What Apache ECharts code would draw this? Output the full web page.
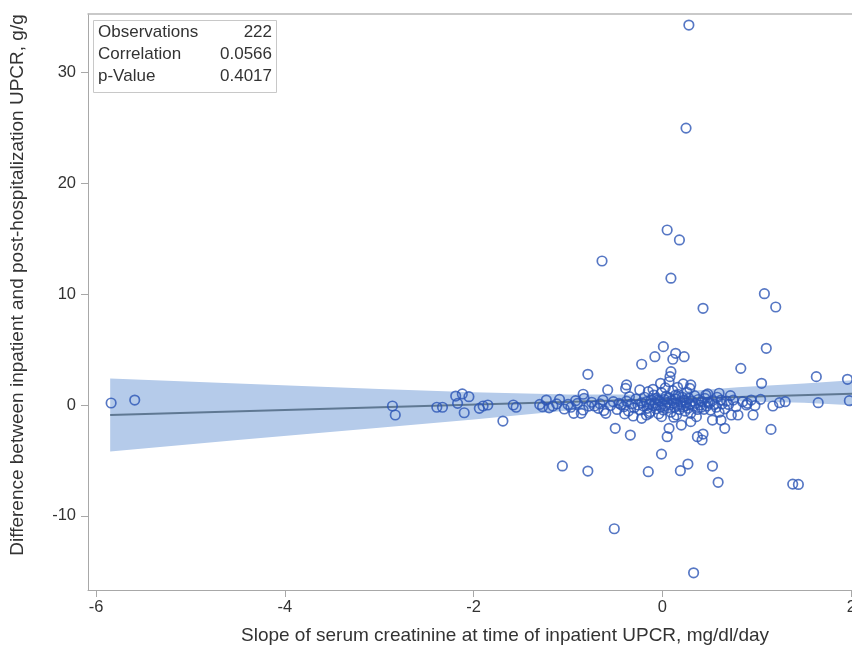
<!DOCTYPE html>
<html>
<head>
<meta charset="utf-8">
<script src="https://cdn.jsdelivr.net/npm/echarts@6/dist/echarts.min.js"></script>
<style>html,body{margin:0;padding:0;background:#fff;overflow:hidden}#c{width:852px;height:646px}</style>
</head>
<body>
<div id="c"></div>
<script>
// ---- data ----
const xTicks = [-6, -4, -2, 0, 2];
const yTicks = [-10, 0, 10, 20, 30];

const pointsX = [
 -5.84,-5.59,-2.86,-2.83,-2.39,-2.33,-2.19,-2.12,-2.05,-2.17,
 -2.10,-1.94,-1.90,-1.85,-1.69,-1.58,-1.55,-1.27,-1.23,-1.16,
 -1.09,-1.04,-0.94,-0.92,-0.86,-0.84,-0.84,-0.79,-1.06,-0.79,
 -0.83,-0.72,-0.63,-0.58,-0.60,-0.50,-0.38,-0.39,-0.24,-0.22,
 -0.08,-0.31,-0.46,-0.10,-0.14,0.01,0.14,0.11,0.23,0.09,
 0.08,0.07,-0.02,0.22,0.30,0.29,0.83,0.60,0.46,0.62,
 0.50,0.44,0.90,0.94,0.73,0.80,0.96,0.53,0.62,0.30,
 0.20,0.07,0.66,-0.17,-0.01,-0.34,0.05,0.37,0.43,0.42,
 -0.01,-0.15,0.19,0.27,0.53,1.15,1.10,1.05,1.63,1.96,
 1.65,1.98,1.17,1.24,1.30,1.04,0.89,0.28,0.25,0.05,
 0.18,-0.64,0.09,1.08,1.20,0.43,0.59,1.38,1.44,-0.51,
 0.33,
 -1.30,-1.20,-1.12,-1.00,-0.97,-0.90,-0.78,-0.75,-0.68,-0.66,
 -0.55,-0.52,-0.48,-0.44,-0.41,-0.38,-0.36,-0.33,-0.30,-0.28,
 -0.26,-0.24,-0.22,-0.20,-0.19,-0.17,-0.16,-0.14,-0.13,-0.12,
 -0.10,-0.09,-0.08,-0.07,-0.06,-0.05,-0.04,-0.03,-0.02,-0.01,
 0.00,0.01,0.02,0.03,0.04,0.05,0.06,0.07,0.08,0.09,
 0.10,0.11,0.12,0.13,0.14,0.15,0.16,0.17,0.18,0.19,
 0.20,0.21,0.22,0.23,0.24,0.25,0.26,0.27,0.28,0.29,
 0.30,0.31,0.33,0.34,0.35,0.37,0.38,0.40,0.41,0.42,
 0.45,0.47,0.48,0.51,0.53,0.55,0.57,0.58,0.63,0.66,
 0.68,0.70,0.75,0.78,0.85,0.98,-0.35,-0.15,0.03,0.16,
 -0.40,0.12,0.36,-0.22,0.48,-0.62,0.60,0.72,-0.05,0.25,
 0.14
];
const pointsY = [
 0.18,0.45,-0.09,-0.90,-0.20,-0.20,0.81,1.00,0.75,0.15,
 -0.70,-0.30,-0.09,0.00,-1.45,0.00,-0.20,-0.15,0.45,-0.09,
 0.51,-0.36,-0.75,0.39,-0.75,-0.45,0.97,2.77,-5.50,-5.96,
 0.60,-0.09,0.45,1.36,-0.75,-2.10,1.81,1.50,1.36,3.68,
 4.36,-0.99,0.15,1.42,-0.75,5.27,4.67,4.13,4.36,3.01,
 2.56,2.10,1.96,1.90,1.81,1.50,3.31,1.06,0.90,0.45,
 0.15,-0.39,0.15,0.45,-0.90,-0.90,-0.90,-1.36,-1.36,-1.50,
 -1.81,-2.10,-2.10,-0.90,-1.05,-2.71,-2.86,-2.86,-2.62,-3.16,
 -4.43,-6.02,-5.93,-5.33,-5.51,-2.20,5.12,1.96,2.56,2.32,
 0.21,0.39,-0.09,0.21,0.30,0.51,0.00,34.3,25.0,15.8,
 14.9,13.0,11.45,10.05,8.85,8.73,-6.98,-7.14,-7.17,-11.17,
 -15.15,
 0.05,-0.25,0.10,0.05,-0.20,0.15,-0.10,0.25,-0.30,0.10,
 -0.05,0.30,-0.40,0.05,-0.15,0.35,-0.55,0.10,-0.25,0.55,
 0.00,-0.45,0.20,-0.10,0.70,0.30,-0.30,0.05,-0.60,0.45,
 -0.05,0.90,0.20,-0.35,0.60,0.00,-0.80,0.35,-0.15,1.10,
 0.10,-0.45,0.50,-0.05,0.80,0.25,-0.25,0.65,0.00,-0.65,
 0.40,1.30,0.15,-0.20,0.55,-0.90,0.05,0.95,-0.40,0.30,
 0.00,0.70,-0.15,0.45,-0.55,0.20,1.15,-0.30,0.60,0.05,
 -0.75,0.35,-0.10,0.85,0.15,-0.40,0.50,0.00,-0.20,0.30,
 0.60,-0.10,0.25,-0.45,0.40,0.05,-0.20,0.70,0.10,-0.35,
 0.35,0.05,0.45,-0.15,0.30,-0.05,0.75,1.20,1.55,1.60,
 -0.80,-1.10,-1.05,-1.20,1.00,-0.50,-0.65,0.85,0.45,-0.05,
 0.90
];

const fitX = [-5.85, 2.1];
const fitY = [-0.9, 1.05];

const bandX = [-5.85, -4.5, -3.0, -2.0, -1.0, -0.2, 0.8, 1.5, 2.1];
const bandUpper = [2.4, 1.95, 1.45, 1.15, 0.95, 0.95, 1.6, 1.95, 2.3];
const bandLower = [-4.2, -3.15, -2.05, -1.3, -0.5, -0.05, 0.35, 0.2, -0.05];

const statLabels = ['Observations', 'Correlation', 'p-Value'];
const statValues = ['222', '0.0566', '0.4017'];

const xTitle = 'Slope of serum creatinine at time of inpatient UPCR, mg/dl/day';
const yTitle = 'Difference between inpatient and post-hospitalization UPCR, g/g';

// ---- chart ----
const chart = echarts.init(document.getElementById('c'), null, {renderer: 'canvas', width: 852, height: 646});
const font = '"Liberation Sans", Arial, sans-serif';
const txt = '#333';
const frame = '#a8a8a8';

const scatterData = pointsX.map((x, i) => [x, pointsY[i]]);
const fitData = fitX.map((x, i) => [x, fitY[i]]);

const graphics = [{
  type: 'rect', left: 93, top: 20, z: 100,
  shape: {width: 183, height: 72},
  style: {fill: '#fff', stroke: '#c8c8c8', lineWidth: 1}
}, {
  type: 'text', x: 505, y: 636, z: 100,
  style: {text: xTitle, fill: txt, font: '19px ' + font, textAlign: 'center', textVerticalAlign: 'middle'}
}, {
  type: 'text', x: 18, y: 285, rotation: Math.PI / 2, z: 100,
  style: {text: yTitle, fill: txt, font: '19px ' + font, textAlign: 'center', textVerticalAlign: 'middle'}
}];
statLabels.forEach((s, i) => {
  graphics.push({type: 'text', x: 98, y: 32 + i * 22, z: 101,
    style: {text: s, fill: txt, font: '17px ' + font, textVerticalAlign: 'middle', textAlign: 'left'}});
  graphics.push({type: 'text', x: 272, y: 32 + i * 22, z: 101,
    style: {text: statValues[i], fill: txt, font: '17px ' + font, textVerticalAlign: 'middle', textAlign: 'right'}});
});

chart.setOption({
  animation: false,
  backgroundColor: '#fff',
  grid: {left: 88, top: 14, bottom: 56, right: 0, show: false, containLabel: false, outerBoundsMode: 'none'},
  xAxis: [{
    type: 'value', min: -6.085, max: 2.008, position: 'bottom',
    axisLine: {show: true, onZero: false, lineStyle: {color: frame}},
    axisTick: {show: true, customValues: xTicks, length: 7, lineStyle: {color: frame}},
    axisLabel: {customValues: xTicks, fontFamily: font, fontSize: 16.5, color: txt, margin: 9},
    splitLine: {show: false}
  }, {
    type: 'value', min: -6.085, max: 2.008, position: 'top',
    axisLine: {show: true, onZero: false, lineStyle: {color: '#b8b8b8', width: 1.5}},
    axisTick: {show: false}, axisLabel: {show: false}, splitLine: {show: false}
  }],
  yAxis: {
    type: 'value', min: -16.7, max: 35.3,
    axisLine: {show: true, onZero: false, lineStyle: {color: frame}},
    axisTick: {show: true, customValues: yTicks, length: 7, lineStyle: {color: frame}},
    axisLabel: {customValues: yTicks, fontFamily: font, fontSize: 16.5, color: txt, margin: 12},
    splitLine: {show: false}
  },
  graphic: graphics,
  series: [
    {
      type: 'custom', z: 1, silent: true, clip: true,
      data: [[0, 0]],
      renderItem: function (params, api) {
        const pts = [];
        bandX.forEach((x, i) => pts.push(api.coord([x, bandUpper[i]])));
        for (let i = bandX.length - 1; i >= 0; i--) pts.push(api.coord([bandX[i], bandLower[i]]));
        return {type: 'polygon', shape: {points: pts}, style: {fill: '#b5cbea', stroke: 'none'}};
      }
    },
    {
      type: 'line', z: 2, data: fitData, showSymbol: false, symbol: 'none', clip: true,
      lineStyle: {color: '#5f7893', width: 2}, silent: true
    },
    {
      type: 'scatter', z: 3, data: scatterData, symbol: 'circle', symbolSize: 9.5,
      itemStyle: {color: 'rgba(0,0,0,0)', borderColor: '#2c55b5', borderWidth: 1.7}
    }
  ]
});
</script>
</body>
</html>
